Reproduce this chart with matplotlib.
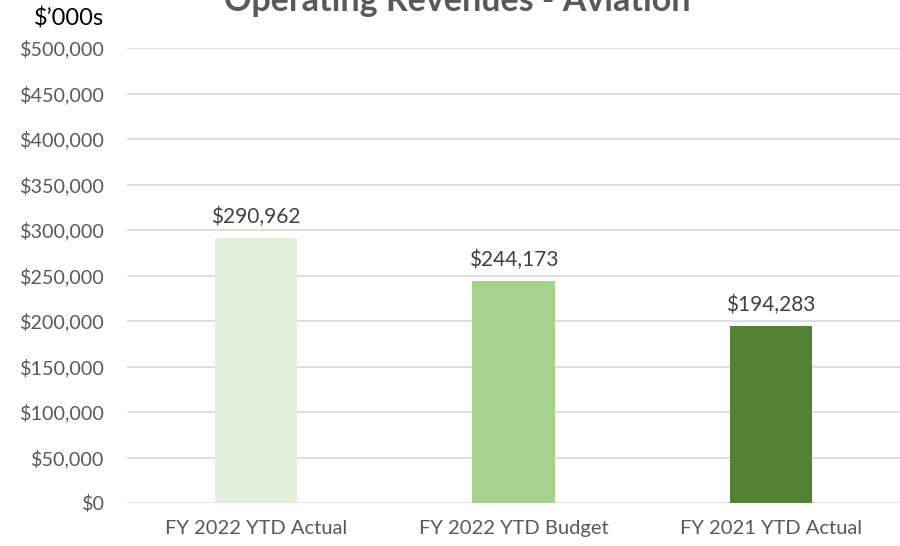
import matplotlib.pyplot as plt
from matplotlib.ticker import FuncFormatter, MultipleLocator

categories = ["FY 2022 YTD Actual", "FY 2022 YTD Budget", "FY 2021 YTD Actual"]
values = [290962, 244173, 194283]
colors = ["#E2EFDA", "#A9D18E", "#548235"]

plt.rcParams['font.family'] = ['Lato', 'DejaVu Sans']

fig = plt.figure(figsize=(9, 5.46), dpi=100)
ax = fig.add_axes([127 / 900, 1 - 503 / 546, 773 / 900, 455 / 546])

x = range(len(categories))
ax.bar(x, values, width=0.32, color=colors, zorder=3)
for i, v in enumerate(values):
    ax.text(i, v + 12000, "${:,}".format(v), ha="center", va="bottom",
            fontsize=15, color="#404040")

ax.set_xlim(-0.5, 2.5)
ax.set_ylim(0, 500000)
ax.yaxis.set_major_locator(MultipleLocator(50000))
ax.yaxis.set_major_formatter(FuncFormatter(lambda v, p: "${:,.0f}".format(v)))
ax.set_xticks(list(x))
ax.set_xticklabels(categories)
ax.tick_params(axis="both", length=0, labelsize=14.5, labelcolor="#595959")
ax.tick_params(axis="y", labelsize=14.2, pad=16)
ax.tick_params(axis="x", pad=12)
ax.grid(axis="y", color="#D9D9D9", linewidth=1.2, zorder=0)
for s in ax.spines.values():
    s.set_visible(False)

fig.text(457 / 900, 1 - 1 / 546, "Operating Revenues - Aviation", ha="center",
         va="center", fontsize=24.5, fontweight="bold", color="#595959")
fig.text(69 / 900, 1 - 18 / 546, "$\u2019000s", ha="center", va="center",
         fontsize=17, color="black")

fig.savefig("out.png", dpi=100)
